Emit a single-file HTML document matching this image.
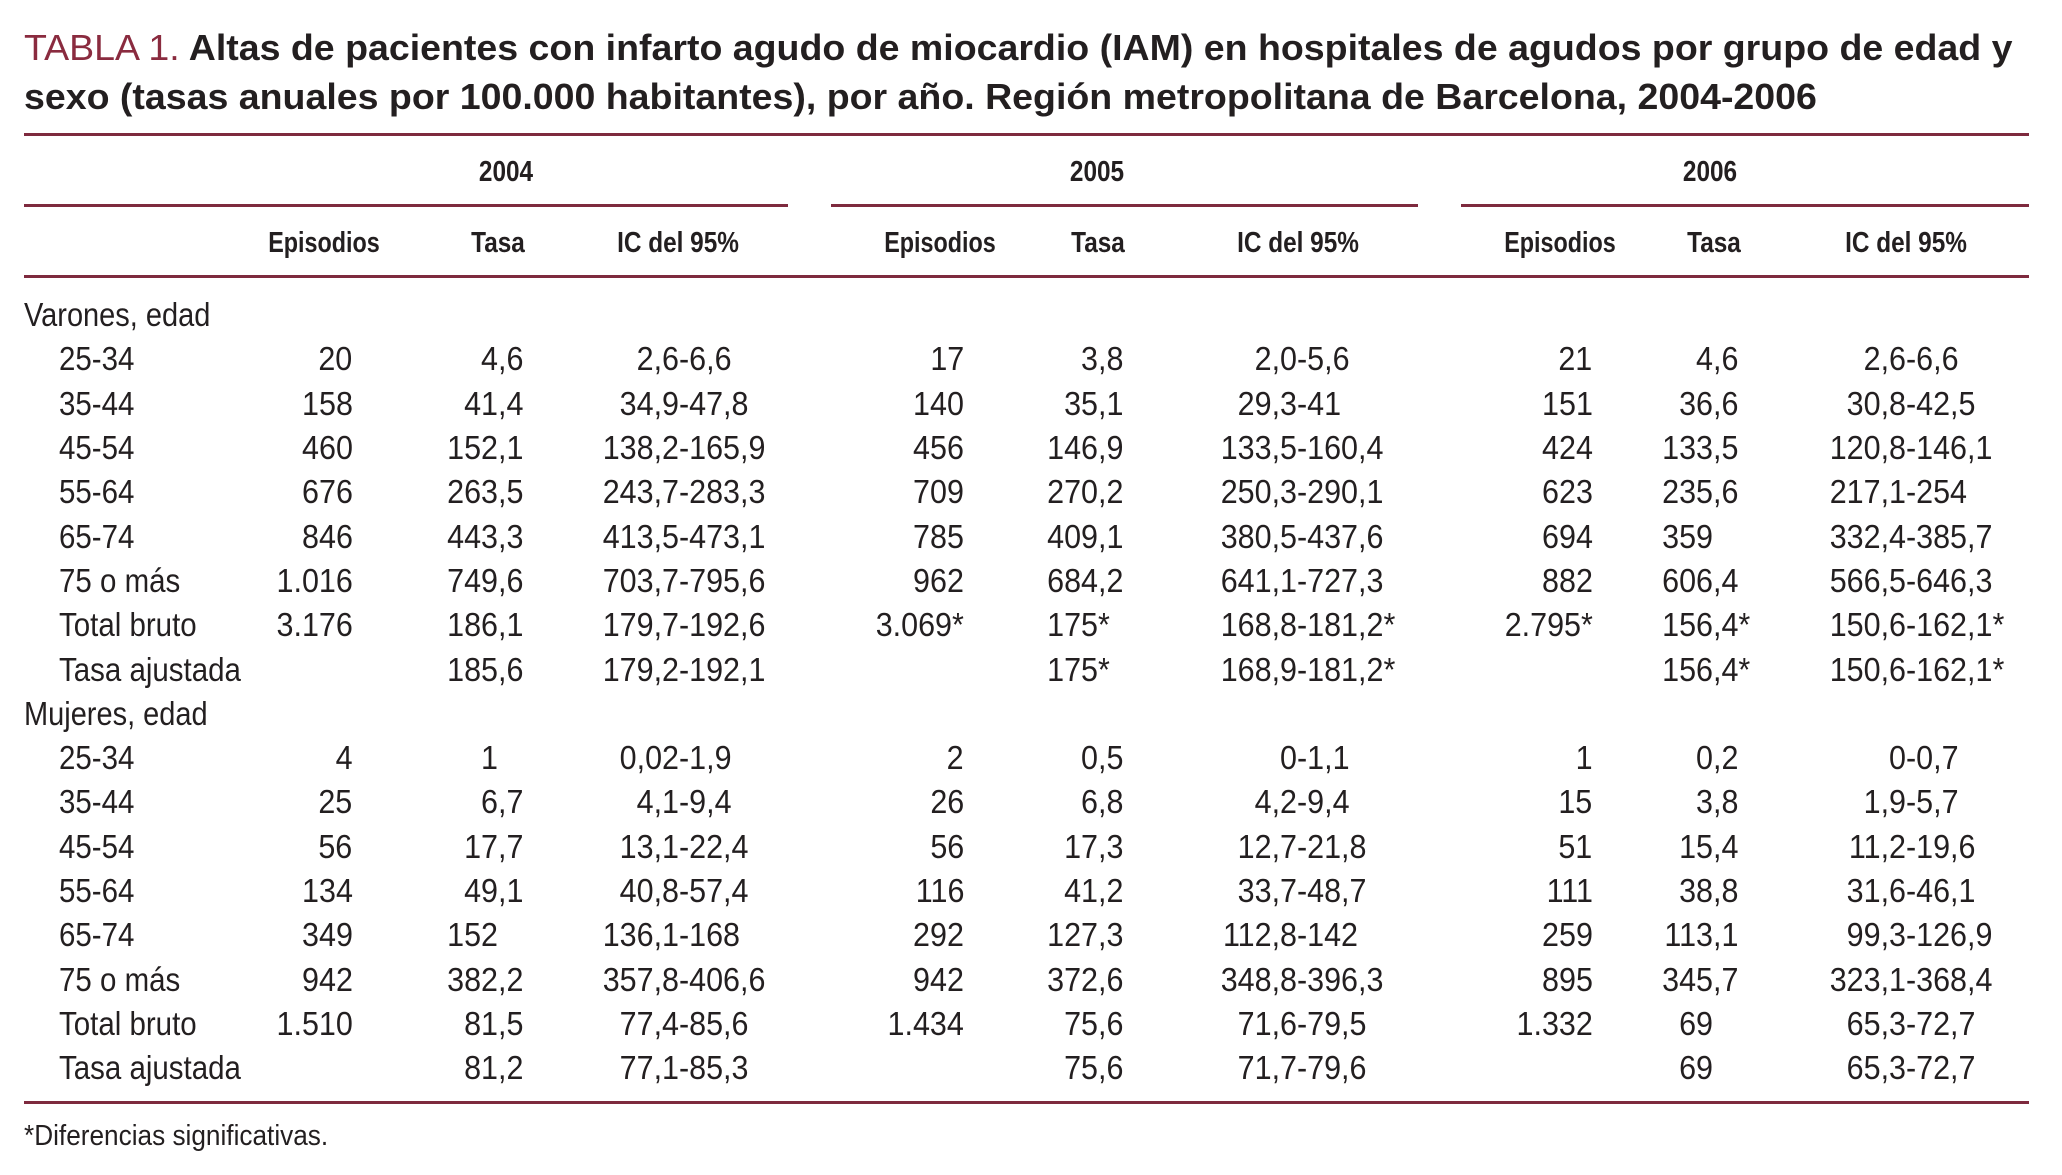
<!DOCTYPE html>
<html lang="es">
<head>
<meta charset="utf-8">
<title>Tabla 1</title>
<style>
html,body{margin:0;padding:0;background:#fff}
#page{position:relative;width:2062px;height:1175px;overflow:hidden;background:#fff;color:#231f20;font-family:"Liberation Sans",sans-serif}
.title{position:absolute;left:24px;height:50px;line-height:50px;font-size:36px;font-weight:bold;white-space:nowrap;transform-origin:0 0;transform:scaleX(1.042)}
.title span{font-weight:normal;color:#8a2b3f}
.rule{position:absolute;height:3px;background:#7e2a3e}
.h{position:absolute;height:36px;line-height:36px;font-size:29px;font-weight:bold;white-space:nowrap;transform:translateX(-50%) scaleX(.84)}
.h.ep{transform:translateX(-50%) scaleX(.805)}
.row{position:absolute;left:0;width:2062px;height:40px;line-height:40px;font-size:33.5px}
.c{position:absolute;top:0;white-space:nowrap}
.lab{left:59px;transform-origin:0 0;transform:scaleX(.88)}
.grp{left:24px;transform-origin:0 0;transform:scaleX(.865)}
.e{transform-origin:100% 0;transform:scaleX(.91)}
.e4{right:1709.6px}.e5{right:1098px}.e6{right:469.5px}
.a{transform-origin:0 0;transform:scaleX(.91)}
.a .l{position:absolute;right:100%;top:0}
.t4{left:498px}.t5{left:1097.6px}.t6{left:1713px}
.i4{left:678.6px}.i5{left:1296.6px}.i6{left:1905.5px}
.note{position:absolute;left:24px;top:1115.6px;height:40px;line-height:40px;font-size:29px;white-space:nowrap;transform-origin:0 0;transform:scaleX(.903)}
</style>
</head>
<body>
<div id="page">
<div class="title" style="top:23px"><span>TABLA 1.</span> Altas de pacientes con infarto agudo de miocardio (IAM) en hospitales de agudos por grupo de edad y</div>
<div class="title" style="top:72px">sexo (tasas anuales por 100.000 habitantes), por año. Región metropolitana de Barcelona, 2004-2006</div>

<div class="rule" style="left:24px;width:2005px;top:133px"></div>
<div class="rule" style="left:24px;width:764px;top:204px"></div>
<div class="rule" style="left:831px;width:587px;top:204px"></div>
<div class="rule" style="left:1461px;width:568px;top:204px"></div>
<div class="rule" style="left:24px;width:2005px;top:275px"></div>
<div class="rule" style="left:24px;width:2005px;top:1101px"></div>

<div class="h" style="left:506.4px;top:154px">2004</div>
<div class="h" style="left:1097px;top:154px">2005</div>
<div class="h" style="left:1710px;top:154px">2006</div>
<div class="h ep" style="left:323.7px;top:225px">Episodios</div>
<div class="h" style="left:498px;top:225px">Tasa</div>
<div class="h" style="left:678px;top:225px">IC del 95%</div>
<div class="h ep" style="left:940px;top:225px">Episodios</div>
<div class="h" style="left:1097.5px;top:225px">Tasa</div>
<div class="h" style="left:1297.5px;top:225px">IC del 95%</div>
<div class="h ep" style="left:1559.5px;top:225px">Episodios</div>
<div class="h" style="left:1713.5px;top:225px">Tasa</div>
<div class="h" style="left:1906px;top:225px">IC del 95%</div>

<div class="row" style="top:296.1px"><div class="c grp">Varones, edad</div></div>

<div class="row" style="top:340.4px"><div class="c lab">25-34</div>
<div class="c e e4">20</div><div class="c a t4"><span class="l">4</span>,6</div><div class="c a i4"><span class="l">2,6</span>-6,6</div>
<div class="c e e5">17</div><div class="c a t5"><span class="l">3</span>,8</div><div class="c a i5"><span class="l">2,0</span>-5,6</div>
<div class="c e e6">21</div><div class="c a t6"><span class="l">4</span>,6</div><div class="c a i6"><span class="l">2,6</span>-6,6</div></div>

<div class="row" style="top:384.7px"><div class="c lab">35-44</div>
<div class="c e e4">158</div><div class="c a t4"><span class="l">41</span>,4</div><div class="c a i4"><span class="l">34,9</span>-47,8</div>
<div class="c e e5">140</div><div class="c a t5"><span class="l">35</span>,1</div><div class="c a i5"><span class="l">29,3</span>-41</div>
<div class="c e e6">151</div><div class="c a t6"><span class="l">36</span>,6</div><div class="c a i6"><span class="l">30,8</span>-42,5</div></div>

<div class="row" style="top:429px"><div class="c lab">45-54</div>
<div class="c e e4">460</div><div class="c a t4"><span class="l">152</span>,1</div><div class="c a i4"><span class="l">138,2</span>-165,9</div>
<div class="c e e5">456</div><div class="c a t5"><span class="l">146</span>,9</div><div class="c a i5"><span class="l">133,5</span>-160,4</div>
<div class="c e e6">424</div><div class="c a t6"><span class="l">133</span>,5</div><div class="c a i6"><span class="l">120,8</span>-146,1</div></div>

<div class="row" style="top:473.3px"><div class="c lab">55-64</div>
<div class="c e e4">676</div><div class="c a t4"><span class="l">263</span>,5</div><div class="c a i4"><span class="l">243,7</span>-283,3</div>
<div class="c e e5">709</div><div class="c a t5"><span class="l">270</span>,2</div><div class="c a i5"><span class="l">250,3</span>-290,1</div>
<div class="c e e6">623</div><div class="c a t6"><span class="l">235</span>,6</div><div class="c a i6"><span class="l">217,1</span>-254</div></div>

<div class="row" style="top:517.6px"><div class="c lab">65-74</div>
<div class="c e e4">846</div><div class="c a t4"><span class="l">443</span>,3</div><div class="c a i4"><span class="l">413,5</span>-473,1</div>
<div class="c e e5">785</div><div class="c a t5"><span class="l">409</span>,1</div><div class="c a i5"><span class="l">380,5</span>-437,6</div>
<div class="c e e6">694</div><div class="c a t6"><span class="l">359</span></div><div class="c a i6"><span class="l">332,4</span>-385,7</div></div>

<div class="row" style="top:561.9px"><div class="c lab">75 o más</div>
<div class="c e e4">1.016</div><div class="c a t4"><span class="l">749</span>,6</div><div class="c a i4"><span class="l">703,7</span>-795,6</div>
<div class="c e e5">962</div><div class="c a t5"><span class="l">684</span>,2</div><div class="c a i5"><span class="l">641,1</span>-727,3</div>
<div class="c e e6">882</div><div class="c a t6"><span class="l">606</span>,4</div><div class="c a i6"><span class="l">566,5</span>-646,3</div></div>

<div class="row" style="top:606.2px"><div class="c lab">Total bruto</div>
<div class="c e e4">3.176</div><div class="c a t4"><span class="l">186</span>,1</div><div class="c a i4"><span class="l">179,7</span>-192,6</div>
<div class="c e e5">3.069*</div><div class="c a t5"><span class="l">175</span>*</div><div class="c a i5"><span class="l">168,8</span>-181,2*</div>
<div class="c e e6">2.795*</div><div class="c a t6"><span class="l">156</span>,4*</div><div class="c a i6"><span class="l">150,6</span>-162,1*</div></div>

<div class="row" style="top:650.5px"><div class="c lab">Tasa ajustada</div>
<div class="c a t4"><span class="l">185</span>,6</div><div class="c a i4"><span class="l">179,2</span>-192,1</div>
<div class="c a t5"><span class="l">175</span>*</div><div class="c a i5"><span class="l">168,9</span>-181,2*</div>
<div class="c a t6"><span class="l">156</span>,4*</div><div class="c a i6"><span class="l">150,6</span>-162,1*</div></div>

<div class="row" style="top:694.8px"><div class="c grp">Mujeres, edad</div></div>

<div class="row" style="top:739.1px"><div class="c lab">25-34</div>
<div class="c e e4">4</div><div class="c a t4"><span class="l">1</span></div><div class="c a i4"><span class="l">0,02</span>-1,9</div>
<div class="c e e5">2</div><div class="c a t5"><span class="l">0</span>,5</div><div class="c a i5"><span class="l">0</span>-1,1</div>
<div class="c e e6">1</div><div class="c a t6"><span class="l">0</span>,2</div><div class="c a i6"><span class="l">0</span>-0,7</div></div>

<div class="row" style="top:783.4px"><div class="c lab">35-44</div>
<div class="c e e4">25</div><div class="c a t4"><span class="l">6</span>,7</div><div class="c a i4"><span class="l">4,1</span>-9,4</div>
<div class="c e e5">26</div><div class="c a t5"><span class="l">6</span>,8</div><div class="c a i5"><span class="l">4,2</span>-9,4</div>
<div class="c e e6">15</div><div class="c a t6"><span class="l">3</span>,8</div><div class="c a i6"><span class="l">1,9</span>-5,7</div></div>

<div class="row" style="top:827.7px"><div class="c lab">45-54</div>
<div class="c e e4">56</div><div class="c a t4"><span class="l">17</span>,7</div><div class="c a i4"><span class="l">13,1</span>-22,4</div>
<div class="c e e5">56</div><div class="c a t5"><span class="l">17</span>,3</div><div class="c a i5"><span class="l">12,7</span>-21,8</div>
<div class="c e e6">51</div><div class="c a t6"><span class="l">15</span>,4</div><div class="c a i6"><span class="l">11,2</span>-19,6</div></div>

<div class="row" style="top:872px"><div class="c lab">55-64</div>
<div class="c e e4">134</div><div class="c a t4"><span class="l">49</span>,1</div><div class="c a i4"><span class="l">40,8</span>-57,4</div>
<div class="c e e5">116</div><div class="c a t5"><span class="l">41</span>,2</div><div class="c a i5"><span class="l">33,7</span>-48,7</div>
<div class="c e e6">111</div><div class="c a t6"><span class="l">38</span>,8</div><div class="c a i6"><span class="l">31,6</span>-46,1</div></div>

<div class="row" style="top:916.3px"><div class="c lab">65-74</div>
<div class="c e e4">349</div><div class="c a t4"><span class="l">152</span></div><div class="c a i4"><span class="l">136,1</span>-168</div>
<div class="c e e5">292</div><div class="c a t5"><span class="l">127</span>,3</div><div class="c a i5"><span class="l">112,8</span>-142</div>
<div class="c e e6">259</div><div class="c a t6"><span class="l">113</span>,1</div><div class="c a i6"><span class="l">99,3</span>-126,9</div></div>

<div class="row" style="top:960.6px"><div class="c lab">75 o más</div>
<div class="c e e4">942</div><div class="c a t4"><span class="l">382</span>,2</div><div class="c a i4"><span class="l">357,8</span>-406,6</div>
<div class="c e e5">942</div><div class="c a t5"><span class="l">372</span>,6</div><div class="c a i5"><span class="l">348,8</span>-396,3</div>
<div class="c e e6">895</div><div class="c a t6"><span class="l">345</span>,7</div><div class="c a i6"><span class="l">323,1</span>-368,4</div></div>

<div class="row" style="top:1004.9px"><div class="c lab">Total bruto</div>
<div class="c e e4">1.510</div><div class="c a t4"><span class="l">81</span>,5</div><div class="c a i4"><span class="l">77,4</span>-85,6</div>
<div class="c e e5">1.434</div><div class="c a t5"><span class="l">75</span>,6</div><div class="c a i5"><span class="l">71,6</span>-79,5</div>
<div class="c e e6">1.332</div><div class="c a t6"><span class="l">69</span></div><div class="c a i6"><span class="l">65,3</span>-72,7</div></div>

<div class="row" style="top:1049.2px"><div class="c lab">Tasa ajustada</div>
<div class="c a t4"><span class="l">81</span>,2</div><div class="c a i4"><span class="l">77,1</span>-85,3</div>
<div class="c a t5"><span class="l">75</span>,6</div><div class="c a i5"><span class="l">71,7</span>-79,6</div>
<div class="c a t6"><span class="l">69</span></div><div class="c a i6"><span class="l">65,3</span>-72,7</div></div>

<div class="note">*Diferencias significativas.</div>
</div>
</body>
</html>
